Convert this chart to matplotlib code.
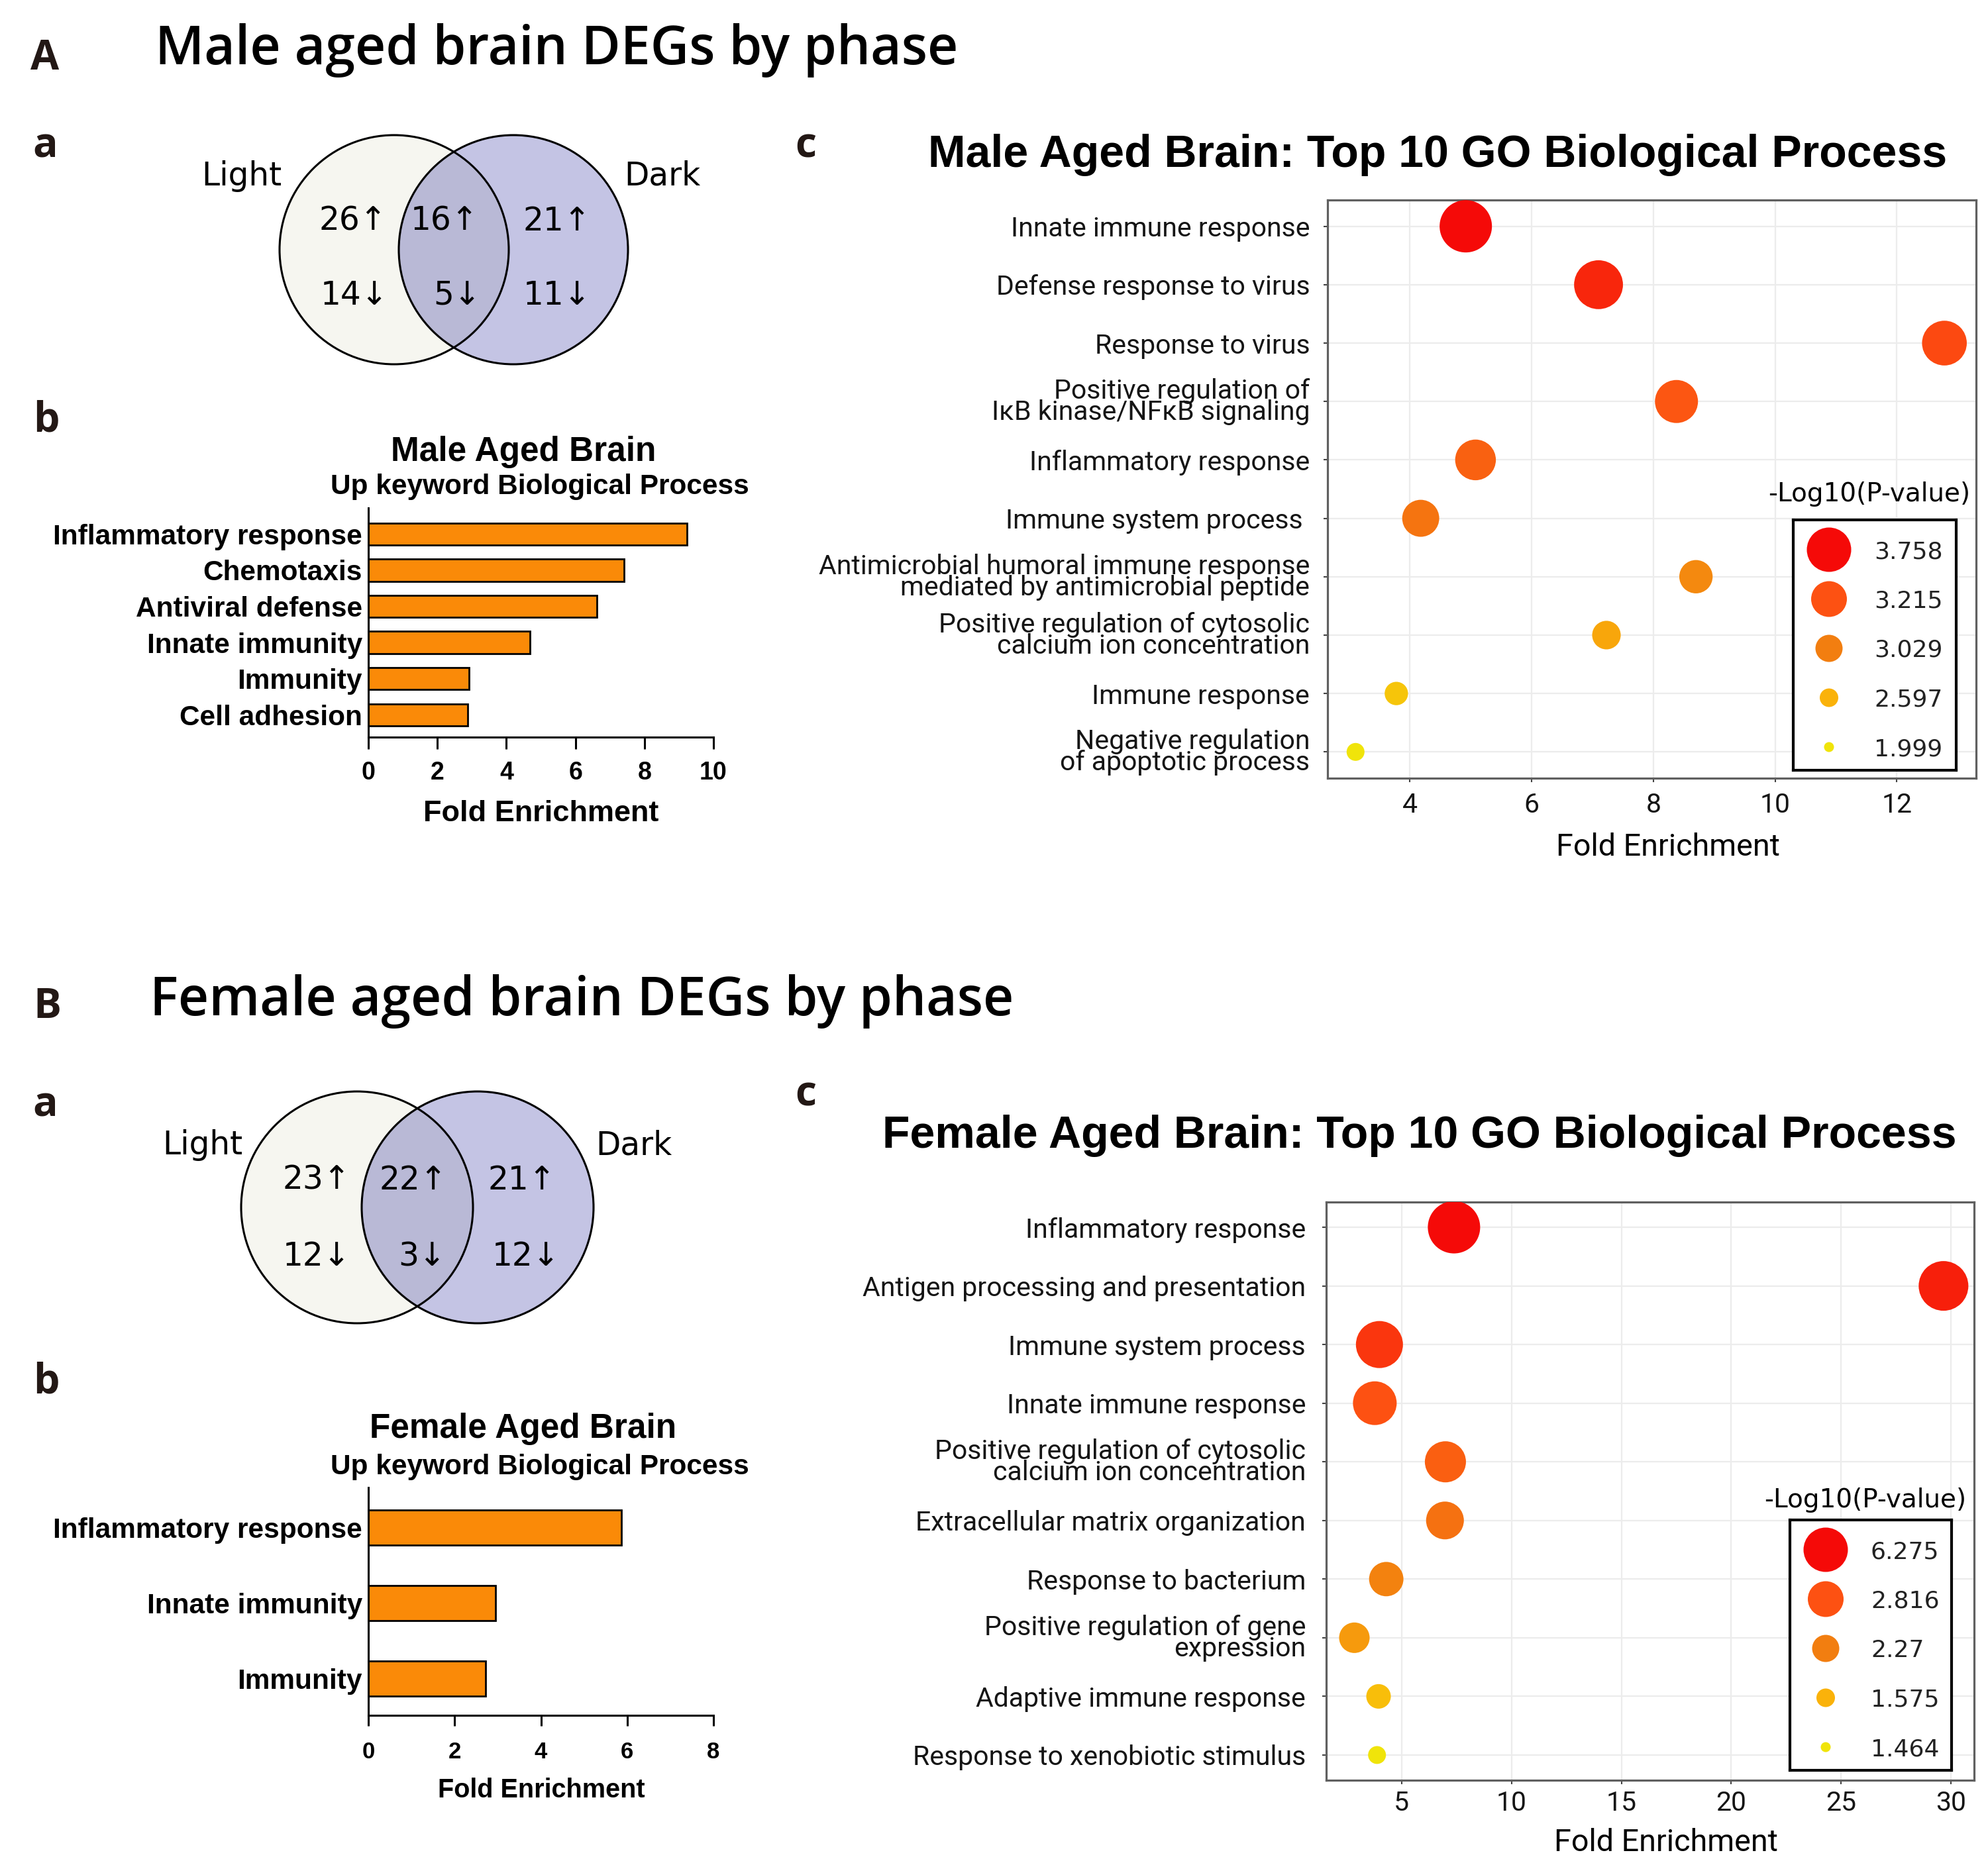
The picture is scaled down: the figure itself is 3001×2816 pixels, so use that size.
import numpy as np
import matplotlib
matplotlib.use("Agg")
import matplotlib.pyplot as plt
from matplotlib import font_manager
from matplotlib.patches import Circle
from matplotlib.colors import LinearSegmentedColormap

W, H = 3001, 2816

# ---------------- data ----------------
phase_names = ["Light", "Dark"]
# venn counts: [light only, shared, dark only]
male_up = [26, 16, 21]
male_down = [14, 5, 11]
female_up = [23, 22, 21]
female_down = [12, 3, 12]

male_kw_terms = ["Inflammatory response", "Chemotaxis", "Antiviral defense",
                 "Innate immunity", "Immunity", "Cell adhesion"]
male_kw_fold = [9.24, 7.40, 6.62, 4.68, 2.92, 2.87]
female_kw_terms = ["Inflammatory response", "Innate immunity", "Immunity"]
female_kw_fold = [5.86, 2.95, 2.72]

male_go_terms = [
    "Innate immune response",
    "Defense response to virus",
    "Response to virus",
    "Positive regulation of\nIκB kinase/NFκB signaling",
    "Inflammatory response",
    "Immune system process ",
    "Antimicrobial humoral immune response\nmediated by antimicrobial peptide",
    "Positive regulation of cytosolic\ncalcium ion concentration",
    "Immune response",
    "Negative regulation\nof apoptotic process",
]
male_go_fold = [4.92, 7.10, 12.78, 8.38, 5.08, 4.18, 8.70, 7.23, 3.78, 3.11]
male_go_logp = [3.758, 3.54, 3.28, 3.20, 3.15, 3.07, 2.94, 2.70, 2.38, 1.999]
male_logp_breaks = [3.758, 3.215, 3.029, 2.597, 1.999]

female_go_terms = [
    "Inflammatory response",
    "Antigen processing and presentation",
    "Immune system process",
    "Innate immune response",
    "Positive regulation of cytosolic\ncalcium ion concentration",
    "Extracellular matrix organization",
    "Response to bacterium",
    "Positive regulation of gene\nexpression",
    "Adaptive immune response",
    "Response to xenobiotic stimulus",
]
female_go_fold = [7.39, 29.65, 4.00, 3.79, 7.00, 6.98, 4.31, 2.86, 3.96, 3.89]
female_go_logp = [6.275, 5.21, 4.15, 2.816, 2.65, 2.44, 2.21, 1.90, 1.55, 1.464]
female_logp_breaks = [6.275, 2.816, 2.27, 1.575, 1.464]

# ---------------- fonts / colours ----------------
ttf = font_manager.fontManager.ttflist
installed = {f.name for f in ttf}


def as_int_weight(w):
    if isinstance(w, (int, float)):
        return int(w)
    return font_manager.weight_dict.get(str(w).lower(), 400)


def pick_font(families, lo, hi):
    # first family that really ships a face with weight in [lo, hi]
    for fam in families:
        ws = sorted(as_int_weight(f.weight) for f in ttf if f.name == fam)
        for w in ws:
            if lo <= w <= hi:
                return fam, w
    return "DejaVu Sans", 700


if "Liberation Sans Narrow" in installed:
    GO_FONT, GO_K = ["Liberation Sans Narrow", "DejaVu Sans"], 1.0
else:
    GO_FONT, GO_K = ["Roboto", "DejaVu Sans"], 0.82

letter_fam, letter_w = pick_font(["Open Sans", "Noto Sans", "Lato", "Roboto"], 700, 800)
title_fam, title_w = pick_font(["Open Sans", "Noto Sans", "Inter", "Lato", "Roboto"], 560, 650)
if title_fam == "DejaVu Sans":
    title_fam, title_w = pick_font(["Open Sans", "Noto Sans", "Inter", "Lato", "Roboto"], 500, 700)

BAR_FONT = ["Liberation Sans", "DejaVu Sans"]
LETTER = dict(fontsize=45, fontweight=letter_w, family=letter_fam, color="#231815", va="baseline")
TITLE = dict(fontsize=58, fontweight=title_w, family=title_fam, va="baseline")
VENN_FONT = dict(fontsize=35, family="DejaVu Sans", va="baseline", ha="center")
BAR_COLOR = "#FA8A08"
pcmap = LinearSegmentedColormap.from_list(
    "logp", [(0, "#F0E40A"), (0.25, "#FAB20A"), (0.5, "#F27E10"), (0.75, "#FD5212"), (1, "#F50A08")])

fig = plt.figure(figsize=(W / 100, H / 100), dpi=100)


def px_axes(x0, y0, x1, y1):
    return fig.add_axes([x0 / W, 1 - y1 / H, (x1 - x0) / W, (y1 - y0) / H])


# full-figure overlay in pixel units for venns and free text
bg = fig.add_axes([0, 0, 1, 1])
bg.set_xlim(0, W)
bg.set_ylim(H, 0)
bg.axis("off")
bg.set_zorder(10)

# panel letters and headers
bg.text(46, 105, "A", **LETTER)
bg.text(234, 97, "Male aged brain DEGs by phase", **TITLE)
bg.text(49, 237, "a", **LETTER)
bg.text(50, 651, "b", **LETTER)
bg.text(1200, 237, "c", **LETTER)

bg.text(50, 1537, "B", **LETTER)
bg.text(226, 1533, "Female aged brain DEGs by phase", **TITLE)
bg.text(49, 1686, "a", **LETTER)
bg.text(50, 2103, "b", **LETTER)
bg.text(1200, 1670, "c", **LETTER)


def venn(cxl, cxr, cy, r, up, down, num_x, up_base, down_base, name_x, name_base):
    left = Circle((cxl, cy), r, fc="#F6F6F0", ec="none", zorder=1)
    right = Circle((cxr, cy), r, fc="#C4C4E4", ec="none", zorder=1)
    bg.add_patch(left)
    bg.add_patch(right)
    both = Circle((cxr, cy), r, fc="#B9B9D6", ec="none", zorder=2)
    bg.add_patch(both)
    both.set_clip_path(left)
    for cx in (cxl, cxr):
        bg.add_patch(Circle((cx, cy), r, fc="none", ec="black", lw=2.2, zorder=3))
    for x, n in zip(num_x[0], up):
        bg.text(x, up_base, f"{n}↑", zorder=4, **VENN_FONT)
    for x, n in zip(num_x[1], down):
        bg.text(x, down_base, f"{n}↓", zorder=4, **VENN_FONT)
    for x, s in zip(name_x, phase_names):
        bg.text(x, name_base, s, zorder=4, **VENN_FONT)


venn(595, 775, 377, 173, male_up, male_down,
     ([533, 671, 841], [535, 690, 841]), 348, 460, [365, 1000], 280)
venn(539, 721, 1823, 175, female_up, female_down,
     ([478, 624, 788], [478, 637, 794]), 1796, 1911, [306, 957], 1743)


def keyword_bars(box, terms, fold, xmax, bar_h, ylim, tick_fs, tick_len, tick_pad,
                 title, title_y, sub_y, xlabel_y, xlabel_fs):
    ax = px_axes(*box)
    y = np.arange(len(terms))
    ax.barh(y, fold, height=bar_h, color=BAR_COLOR, edgecolor="black", lw=2.0)
    ax.set_xlim(0, xmax)
    ax.set_ylim(*ylim)
    ax.set_yticks(y)
    ax.set_yticklabels(terms, fontsize=30.5, fontweight="bold", family=BAR_FONT)
    ax.tick_params(axis="y", length=0, pad=6.5)
    ax.set_xticks(np.arange(0, xmax + 1, 2))
    ax.tick_params(axis="x", length=tick_len, width=2.2, pad=tick_pad)
    for lbl in ax.get_xticklabels():
        lbl.set_fontsize(tick_fs)
        lbl.set_fontweight("bold")
        lbl.set_family(BAR_FONT)
    for s in ["top", "right"]:
        ax.spines[s].set_visible(False)
    for s in ["left", "bottom"]:
        ax.spines[s].set_linewidth(2.2)
    cx = 805
    bg.text(cx - 15, title_y, title, fontsize=37, fontweight="bold", family=BAR_FONT,
            ha="center", va="baseline")
    bg.text(cx + 10, sub_y, "Up keyword Biological Process", fontsize=30.5, fontweight="bold",
            family=BAR_FONT, ha="center", va="baseline")
    bg.text(817, xlabel_y, "Fold Enrichment", fontsize=xlabel_fs, fontweight="bold",
            family=BAR_FONT, ha="center", va="baseline")
    return ax


keyword_bars((556, 767, 1077, 1113), male_kw_terms, male_kw_fold, 10, 0.61, (5.62, -0.72),
             27, 13, 13, "Male Aged Brain", 696, 746, 1240, 32.5)
keyword_bars((556, 2246, 1077, 2590), female_kw_terms, female_kw_fold, 8, 0.465, (2.49, -0.53),
             25, 11.5, 16.5, "Female Aged Brain", 2171, 2226, 2714, 28.5)


def go_bubbles(box, terms, fold, logp, breaks, xlim, xticks, ylim, ylab_pad, xtick_pad,
               title, title_x, title_y, xlabel_y, leg_box, leg_title_y):
    ax = px_axes(*box)
    levels = sorted(breaks)
    frac_steps = np.linspace(0, 1, len(levels))
    frac = np.interp(logp, levels, frac_steps)
    diam = 27 + 52 * frac
    pos = np.arange(1, len(terms) + 1)
    ax.scatter(fold, pos, s=(diam * 0.72) ** 2, c=pcmap(frac), edgecolors="none", zorder=3)
    ax.set_xlim(*xlim)
    ax.set_ylim(*ylim)
    ax.set_yticks(pos)
    ax.set_yticklabels(terms, fontsize=36 * GO_K, family=GO_FONT, color="#151515")
    for lbl in ax.get_yticklabels():
        lbl.set_linespacing(0.78)
    ax.set_xticks(xticks)
    ax.set_xticklabels([str(t) for t in xticks], fontsize=36 * GO_K, family=GO_FONT,
                       color="#151515")
    ax.tick_params(axis="y", length=4.3, width=1.5, color="#444444", pad=ylab_pad)
    ax.tick_params(axis="x", length=4.3, width=1.5, color="#444444", pad=xtick_pad)
    ax.grid(True, color="#ECECEC", lw=1.6)
    ax.set_axisbelow(True)
    for s in ax.spines.values():
        s.set_color("#606060")
        s.set_linewidth(2.3)
    bg.text(title_x, title_y, title, fontsize=49, fontweight="bold", family=BAR_FONT,
            ha="left", va="baseline")
    bg.text((box[0] + box[2]) / 2 + 24, xlabel_y, "Fold Enrichment", fontsize=41 * GO_K,
            family=GO_FONT, ha="center", va="baseline")

    # size / colour legend
    lx0, ly0, lx1, ly1 = leg_box
    lg = px_axes(*leg_box)
    lg.set_xlim(lx0, lx1)
    lg.set_ylim(ly1, ly0)
    lg.set_xticks([])
    lg.set_yticks([])
    for s in lg.spines.values():
        s.set_color("black")
        s.set_linewidth(3)
    rows = np.linspace(ly0 + 45, ly1 - 35, len(breaks))
    bfrac = np.interp(breaks, levels, frac_steps)
    lg.scatter(np.full(len(breaks), lx0 + 54), rows, s=((15 + 52 * bfrac) * 0.72) ** 2,
               c=pcmap(bfrac), edgecolors="none")
    for yy, b in zip(rows, breaks):
        lg.text(lx0 + 122, yy + 3, f"{b:g}", fontsize=26, family="DejaVu Sans",
                color="#222222", va="center", ha="left")
    bg.text((lx0 + lx1) / 2 - 8, leg_title_y, "-Log10(P-value)", fontsize=28,
            family="DejaVu Sans", ha="center", va="baseline")
    return ax


go_bubbles((2004, 302, 2983, 1175), male_go_terms, male_go_fold, male_go_logp,
           male_logp_breaks, (2.65, 13.3), [4, 6, 8, 10, 12], (10.45, 0.55), 15, 11,
           "Male Aged Brain: Top 10 GO Biological Process", 1401, 252, 1292,
           (2707, 785, 2953, 1163), 757)
go_bubbles((2002, 1815, 2980, 2688), female_go_terms, female_go_fold, female_go_logp,
           female_logp_breaks, (1.58, 31.04), [5, 10, 15, 20, 25, 30], (10.43, 0.57), 18, 6.5,
           "Female Aged Brain: Top 10 GO Biological Process", 1332, 1733, 2795,
           (2702, 2295, 2946, 2673), 2276)

fig.savefig("out.png", dpi=100)
